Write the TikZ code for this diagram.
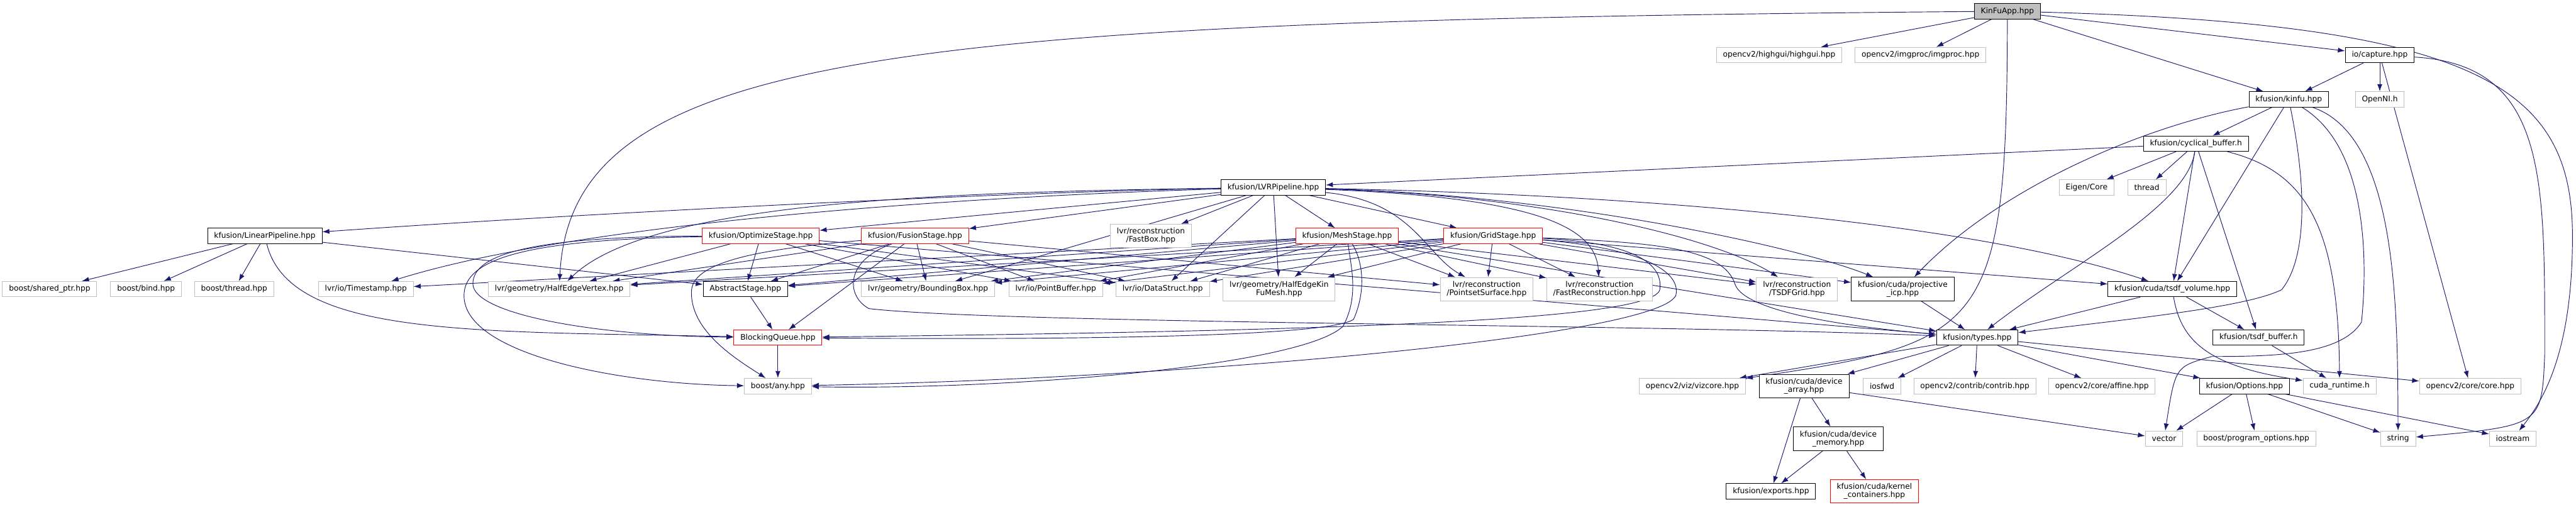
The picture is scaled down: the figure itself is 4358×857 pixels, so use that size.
\documentclass[tikz,border=0pt]{standalone}
\usepackage{fontspec}
\setmainfont{DejaVu Sans}
\usetikzlibrary{arrows.meta,backgrounds}
\definecolor{edgeblue}{HTML}{191970}
\definecolor{extgray}{HTML}{BFBFBF}
\definecolor{cutred}{HTML}{FF0000}
\definecolor{rootfill}{HTML}{BFBFBF}
\tikzset{
  docnode/.style={
    rectangle, draw=black, line width=1pt, fill=white, align=center,
    inner xsep=11pt, inner ysep=6.5pt, minimum height=26pt,
    font={\fontsize{13}{14}\selectfont}
  },
  extnode/.style={docnode, draw=extgray},
  cutnode/.style={docnode, draw=cutred},
  rootnode/.style={docnode, fill=rootfill},
  inclarrow/.style={-{Latex[length=12pt,width=8.5pt]}, line width=1pt, color=edgeblue},
}

\begin{document}
\begin{tikzpicture}[x=1pt, y=-1pt]
  \useasboundingbox (0,0) rectangle (4358,857);
  \node[rootnode] (app) at (3396,19) {KinFuApp.hpp};
  \node[extnode] (highgui) at (3010,93) {opencv2/highgui/highgui.hpp};
  \node[extnode] (imgproc) at (3249,93) {opencv2/imgproc/imgproc.hpp};
  \node[docnode] (capture) at (4026,93) {io/capture.hpp};
  \node[docnode] (kinfu) at (3872,168) {kfusion/kinfu.hpp};
  \node[extnode] (openni) at (4026,168) {OpenNI.h};
  \node[docnode] (cyclic) at (3715,243) {kfusion/cyclical\_buffer.h};
  \node[extnode] (eigen) at (3530,317) {Eigen/Core};
  \node[extnode] (thread) at (3632,317) {thread};
  \node[docnode] (lvr) at (2154,317) {kfusion/LVRPipeline.hpp};
  \node[docnode] (linear) at (448,399) {kfusion/LinearPipeline.hpp};
  \node[cutnode] (optim) at (1287,399) {kfusion/OptimizeStage.hpp};
  \node[cutnode] (fusion) at (1548,399) {kfusion/FusionStage.hpp};
  \node[extnode] (fastbox) at (1947,399) {lvr/reconstruction\\/FastBox.hpp};
  \node[cutnode] (mesh) at (2279,399) {kfusion/MeshStage.hpp};
  \node[cutnode] (grid) at (2526,399) {kfusion/GridStage.hpp};
  \node[extnode] (sharedptr) at (84,489) {boost/shared\_ptr.hpp};
  \node[extnode] (bind) at (247,489) {boost/bind.hpp};
  \node[extnode] (bthread) at (396,489) {boost/thread.hpp};
  \node[extnode] (tstamp) at (619,489) {lvr/io/Timestamp.hpp};
  \node[extnode] (hev) at (946,489) {lvr/geometry/HalfEdgeVertex.hpp};
  \node[docnode] (abstract) at (1261,489) {AbstractStage.hpp};
  \node[extnode] (bbox) at (1570,489) {lvr/geometry/BoundingBox.hpp};
  \node[extnode] (pbuf) at (1786,489) {lvr/io/PointBuffer.hpp};
  \node[extnode] (dstruct) at (1967,489) {lvr/io/DataStruct.hpp};
  \node[extnode] (hekfm) at (2164,489) {lvr/geometry/HalfEdgeKin\\FuMesh.hpp};
  \node[extnode] (psurf) at (2515,489) {lvr/reconstruction\\/PointsetSurface.hpp};
  \node[extnode] (fastrec) at (2706,489) {lvr/reconstruction\\/FastReconstruction.hpp};
  \node[extnode] (tsdfgrid) at (3040,489) {lvr/reconstruction\\/TSDFGrid.hpp};
  \node[docnode] (icp) at (3219,489) {kfusion/cuda/projective\\\_icp.hpp};
  \node[docnode] (tsdfvol) at (3675,489) {kfusion/cuda/tsdf\_volume.hpp};
  \node[cutnode] (bqueue) at (1316,571) {BlockingQueue.hpp};
  \node[docnode] (types) at (3345,571) {kfusion/types.hpp};
  \node[docnode] (tsdfbuf) at (3821,571) {kfusion/tsdf\_buffer.h};
  \node[extnode] (bany) at (1316,653) {boost/any.hpp};
  \node[extnode] (vizcore) at (2863,653) {opencv2/viz/vizcore.hpp};
  \node[docnode] (devarray) at (3052,653) {kfusion/cuda/device\\\_array.hpp};
  \node[extnode] (iosfwd) at (3184,653) {iosfwd};
  \node[extnode] (contrib) at (3341,653) {opencv2/contrib/contrib.hpp};
  \node[extnode] (affine) at (3556,653) {opencv2/core/affine.hpp};
  \node[docnode] (options) at (3797,653) {kfusion/Options.hpp};
  \node[extnode] (cudart) at (3958,653) {cuda\_runtime.h};
  \node[extnode] (core) at (4179,653) {opencv2/core/core.hpp};
  \node[docnode] (devmem) at (3110,742) {kfusion/cuda/device\\\_memory.hpp};
  \node[extnode] (vector) at (3661,742) {vector};
  \node[extnode] (progopt) at (3817,742) {boost/program\_options.hpp};
  \node[extnode] (string) at (4057,742) {string};
  \node[extnode] (iostream) at (4251,742) {iostream};
  \node[docnode] (exports) at (2996,831) {kfusion/exports.hpp};
  \node[cutnode] (kernel) at (3171,831) {kfusion/cuda/kernel\\\_containers.hpp};
  \begin{scope}[on background layer]
  \fill[white] (0,0) rectangle (4358,857);
  \foreach \a/\b in {app/highgui,app/imgproc,app/kinfu,app/capture,
    capture/kinfu,capture/openni,capture/core,kinfu/cyclic,kinfu/tsdfvol,
    cyclic/lvr,cyclic/eigen,cyclic/thread,cyclic/tsdfvol,cyclic/tsdfbuf,
    lvr/optim,lvr/fusion,lvr/fastbox,lvr/mesh,lvr/grid,lvr/bbox,lvr/dstruct,lvr/hekfm,
    linear/sharedptr,linear/bind,linear/bthread,linear/abstract,
    optim/abstract,optim/hev,optim/bbox,optim/pbuf,optim/dstruct,optim/types,
    fusion/abstract,fusion/hev,fusion/bbox,fusion/pbuf,fusion/dstruct,fusion/bqueue,fusion/psurf,
    mesh/abstract,mesh/hev,mesh/tstamp,mesh/bbox,mesh/pbuf,mesh/dstruct,mesh/hekfm,
    mesh/psurf,mesh/fastrec,mesh/tsdfgrid,mesh/types,
    grid/abstract,grid/hev,grid/bbox,grid/pbuf,grid/dstruct,grid/hekfm,grid/psurf,
    grid/fastrec,grid/tsdfgrid,grid/icp,grid/tsdfvol,
    abstract/bqueue,bqueue/bany,icp/types,tsdfvol/types,tsdfvol/tsdfbuf,tsdfbuf/cudart,
    types/vizcore,types/devarray,types/iosfwd,types/contrib,types/affine,types/options,types/core,
    devarray/exports,devarray/devmem,devarray/vector,devmem/exports,devmem/kernel,
    options/vector,options/progopt,options/string,options/iostream}
    \draw[inclarrow] (\a) -- (\b);
  \draw[inclarrow] (lvr) .. controls (1700,325) and (1000,360) .. (linear);
  \draw[inclarrow] (lvr) .. controls (1700,330) and (1000,370) .. (tstamp);
  \draw[inclarrow] (lvr) .. controls (1600,325) and (1100,340) .. (hev);
  \draw[inclarrow] (lvr) .. controls (2600,330) and (2900,400) .. (tsdfgrid);
  \draw[inclarrow] (lvr) .. controls (2650,330) and (3050,420) .. (icp);
  \draw[inclarrow] (lvr) .. controls (2800,330) and (3350,380) .. (tsdfvol);
  \draw[inclarrow] (lvr) .. controls (2390,340) and (2410,430) .. (psurf);
  \draw[inclarrow] (lvr) .. controls (2620,335) and (2700,390) .. (fastrec);
  \draw[inclarrow] (app) .. controls (4200,40) and (4352,150) .. (4352,400)
    .. controls (4352,600) and (4300,680) .. (iostream);
  \draw[inclarrow] (app) .. controls (3395,560) and (3360,580) .. (vizcore);
  \draw[inclarrow] (app) .. controls (1500,35) and (966,90) .. (hev);
  \draw[inclarrow] (capture) .. controls (4310,110) and (4305,300) .. (4305,600)
    .. controls (4300,720) .. (string);
  \draw[inclarrow] (kinfu) .. controls (3620,215) and (3380,320) .. (icp);
  \draw[inclarrow] (kinfu) .. controls (4056,230) and (4056,520) .. (string);
  \draw[inclarrow] (kinfu) .. controls (4008,250) and (4005,450) .. (3995,545)
    .. controls (3960,600) and (3850,603) .. (3742,603) .. controls (3680,620) .. (vector);
  \draw[inclarrow] (kinfu) .. controls (3905,330) and (3900,440) .. (3860,490)
    .. controls (3800,520) and (3600,540) .. (types);
  \draw[inclarrow] (cyclic) .. controls (3700,350) and (3500,450) .. (types);
  \draw[inclarrow] (cyclic) .. controls (3900,290) and (3956,380) .. (cudart);
  \draw[inclarrow] (tsdfvol) .. controls (3690,580) and (3740,620) .. (cudart);
  \draw[inclarrow] (linear) .. controls (490,570) and (800,560) .. (bqueue);
  \draw[inclarrow] (optim) .. controls (900,400) and (800,430) .. (800,480)
    .. controls (800,530) and (1000,568) .. (bqueue);
  \draw[inclarrow] (optim) .. controls (880,405) and (785,440) .. (785,500)
    .. controls (785,600) and (1050,650) .. (bany);
  \draw[inclarrow] (fusion) .. controls (1300,420) and (1175,440) .. (1170,490)
    .. controls (1165,560) and (1250,610) .. (bany);
  \draw[inclarrow] (fusion) .. controls (1430,440) and (1430,500) .. (1470,522)
    .. controls (1700,548) and (2800,548) .. (types);
  \draw[inclarrow] (mesh) .. controls (2305,440) and (2312,490) .. (2290,540)
    .. controls (2250,570) and (1800,575) .. (bqueue);
  \draw[inclarrow] (mesh) .. controls (2285,450) and (2300,500) .. (2272,552)
    .. controls (2200,620) and (1700,660) .. (bany);
  \draw[inclarrow] (grid) .. controls (2750,410) and (2815,440) .. (2808,490)
    .. controls (2795,545) and (2200,560) .. (bqueue);
  \draw[inclarrow] (grid) .. controls (2780,420) and (2845,460) .. (2835,500)
    .. controls (2800,570) and (2000,640) .. (bany);
  \draw[inclarrow] (grid) .. controls (2800,410) and (2915,420) .. (2935,480)
    .. controls (2950,530) and (3150,555) .. (types);
  \end{scope}
\end{tikzpicture}
\end{document}
